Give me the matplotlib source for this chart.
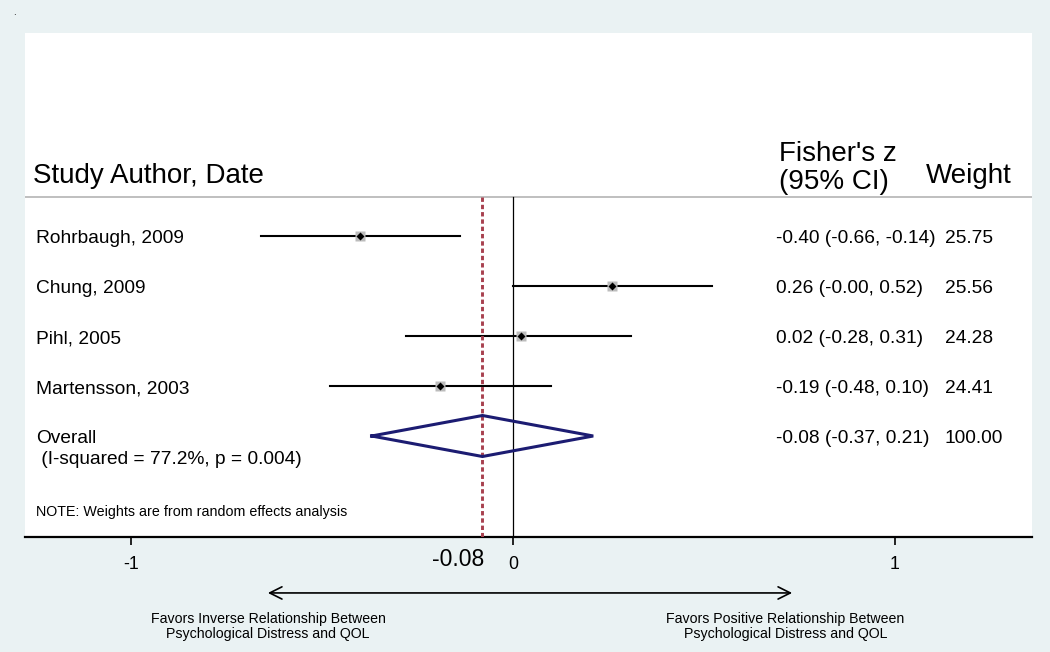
import numpy as np
import matplotlib
matplotlib.use('Agg')
import matplotlib.pyplot as plt
import matplotlib.transforms as mtransforms

plt.rcParams['font.family'] = ['Liberation Sans', 'DejaVu Sans']

# study data (Fisher's z, 95% CI, random-effects weight)
studies = ['Rohrbaugh, 2009', 'Chung, 2009', 'Pihl, 2005', 'Martensson, 2003']
es = [-0.40, 0.26, 0.02, -0.19]
lo = [-0.66, -0.00, -0.28, -0.48]
hi = [-0.14, 0.52, 0.31, 0.10]
weights = [25.75, 25.56, 24.28, 24.41]

overall_es = -0.08
overall_lo = -0.37
overall_hi = 0.21
overall_w = 100.00
het_text = ' (I-squared = 77.2%, p = 0.004)'
note_text = 'NOTE: Weights are from random effects analysis'

xticks = [-1, 0, 1]
left_note = 'Favors Inverse Relationship Between\nPsychological Distress and QOL'
right_note = 'Favors Positive Relationship Between\nPsychological Distress and QOL'

bg = '#eaf2f3'
fig = plt.figure(figsize=(10.5, 6.52), dpi=100, facecolor=bg)
ax = fig.add_axes([25/1050, 115/652, 1007/1050, 504/652])
ax.set_facecolor('white')

ax.set_xlim(-1.2775, 1.3586)
ax.set_ylim(7.02, -3.06)

rows = np.arange(1, len(studies) + 1)
ov_row = len(studies) + 1
top_line = 0.22
dy_txt = 0.05  # nudge text onto the row line

# reference lines
ax.plot([0, 0], [top_line, 7.02], color='black', lw=0.9, zorder=2)
ax.plot([overall_es, overall_es], [top_line, 7.02], color='#a8404f', lw=2.1,
        linestyle=(0, (1.5, 1.0)), zorder=4)
ax.axhline(top_line, color='#b4b4b4', lw=1.2, zorder=1)

# study CIs, weight boxes and point estimates
for r, e, l, h, w in zip(rows, es, lo, hi, weights):
    ax.plot([l, h], [r, r], color='black', lw=1.5, zorder=3)
    ax.plot(e, r, marker='s', ms=1.45 * np.sqrt(w), color='#bcbcbc', mec='none', zorder=3)
    ax.plot(e, r, marker='D', ms=3.8, color='black', mec='none', zorder=5)

# overall diamond
dx = [overall_lo, overall_es, overall_hi, overall_es, overall_lo]
dy = [ov_row, ov_row - 0.41, ov_row, ov_row + 0.41, ov_row]
ax.plot(dx, dy, color='#1c1c72', lw=2.2, zorder=5, solid_joinstyle='miter')

# text columns
tr = mtransforms.blended_transform_factory(ax.transAxes, ax.transData)
lab_x = 11/1007
ci_x = 751/1007
w_x = 920/1007
fs = 13.8
hfs = 20

ax.text(8/1007, -0.2, 'Study Author, Date', transform=tr, fontsize=hfs, va='center')
ax.text(754/1007, -0.64, "Fisher's z", transform=tr, fontsize=hfs, va='center')
ax.text(754/1007, -0.08, '(95% CI)', transform=tr, fontsize=hfs, va='center')
ax.text(901/1007, -0.2, 'Weight', transform=tr, fontsize=hfs, va='center')

fig.canvas.draw()
renderer = fig.canvas.get_renderer()
inv = ax.transAxes.inverted()

ci_labels = ['%.2f (%.2f, %.2f)' % t for t in zip(es, lo, hi)]
ci_labels.append('%.2f (%.2f, %.2f)' % (overall_es, overall_lo, overall_hi))
w_labels = ['%.2f' % w for w in weights] + ['%.2f' % overall_w]
all_rows = list(rows) + [ov_row]

for r, name in zip(rows, studies):
    ax.text(lab_x, r + dy_txt, name, transform=tr, fontsize=fs, va='center')
ax.text(lab_x, ov_row + dy_txt, 'Overall', transform=tr, fontsize=fs, va='center')
ax.text(lab_x, ov_row + 0.46, het_text, transform=tr, fontsize=fs, va='center')
ax.text(lab_x, 6.52, note_text, transform=tr, fontsize=10.3, va='center')

for r, c, w in zip(all_rows, ci_labels, w_labels):
    t = ax.text(ci_x, r + dy_txt, c, transform=tr, fontsize=fs, va='center')
    bb = t.get_window_extent(renderer)
    end = inv.transform((bb.x1 + 5, bb.y0))[0]
    ax.text(max(w_x, end), r + dy_txt, w, transform=tr, fontsize=fs, va='center')

# axes styling
for s in ['top', 'left', 'right']:
    ax.spines[s].set_visible(False)
ax.spines['bottom'].set_linewidth(1.6)
ax.set_yticks([])
ax.set_xticks(xticks)
ax.set_xticklabels([str(t) for t in xticks])
ax.tick_params(axis='x', direction='out', length=6, width=1.2, labelsize=12.8, pad=8)

bt = mtransforms.blended_transform_factory(ax.transData, ax.transAxes)
ax.text(overall_es + 0.005, -0.0456, '%.2f' % overall_es, transform=bt,
        fontsize=16.5, ha='right', va='center', clip_on=False)

# direction arrow and notes
ax.annotate('', xy=(0.738, -0.111), xytext=(-0.649, -0.111), xycoords=bt, textcoords=bt,
            arrowprops=dict(arrowstyle='<->', lw=1.2, color='black', mutation_scale=22),
            annotation_clip=False)
ax.text(-0.641, -0.178, left_note, transform=bt, fontsize=10.2, ha='center', va='center',
        multialignment='center', linespacing=1.1)
ax.text(0.713, -0.178, right_note, transform=bt, fontsize=10.2, ha='center', va='center',
        multialignment='center', linespacing=1.1)

fig.text(13/1050, 1 - 15/652, '.', fontsize=7)

fig.savefig('out.png', dpi=100, facecolor=bg)
